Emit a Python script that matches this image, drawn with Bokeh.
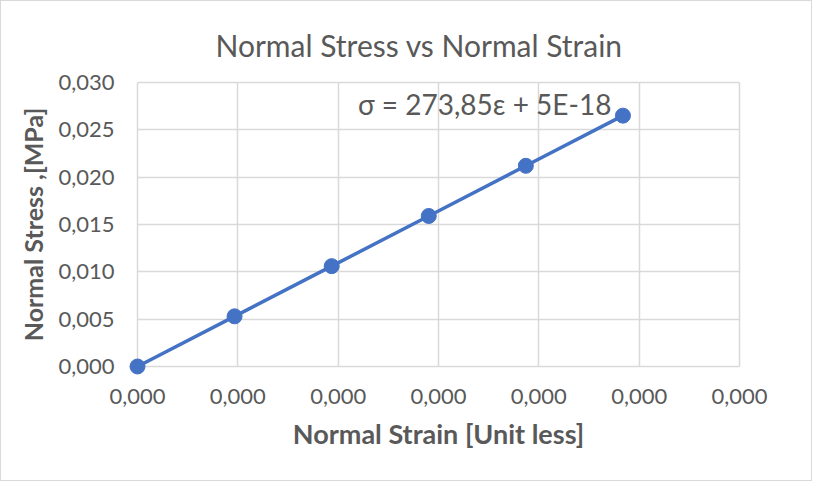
from bokeh.plotting import figure
from bokeh.models import FixedTicker, CustomJSTickFormatter, Label, Title, Range1d
from bokeh.embed import file_html
from bokeh.resources import INLINE

strain = [0.0, 1.935e-5, 3.871e-5, 5.806e-5, 7.741e-5, 9.677e-5]
stress = [0.0, 0.0053, 0.0106, 0.0159, 0.0212, 0.0265]
x_ticks = [0.0, 2e-5, 4e-5, 6e-5, 8e-5, 1e-4, 1.2e-4]
y_ticks = [0.0, 0.005, 0.010, 0.015, 0.020, 0.025, 0.030]
title_text = "Normal Stress vs Normal Strain"
x_label = "Normal Strain [Unit less]"
y_label = "Normal Stress ,[MPa]"
equation = "σ = 273,85ε + 5E-18"

FONT = "Lato"
GRAY = "#595959"
GRID = "#d9d9d9"
BLUE = "#4472C4"

# data area in pixels, plus a small pad so markers on the axes are not clipped
DATA_W, DATA_H, PAD = 602, 284, 9
x0, x1 = x_ticks[0], x_ticks[-1]
y0, y1 = y_ticks[0], y_ticks[-1]
px = (x1 - x0) / DATA_W * PAD
py = (y1 - y0) / DATA_H * PAD
FW, FH = DATA_W + 2 * PAD, DATA_H + 2 * PAD
L, T = 127, 72
W, H = 812, 481

p = figure(width=W, height=H, output_backend="svg", toolbar_location=None,
           x_range=Range1d(x0 - px, x1 + px), y_range=Range1d(y0 - py, y1 + py),
           min_border_left=L, min_border_right=W - L - FW,
           min_border_top=T, min_border_bottom=H - T - FH)
p.styles = {"border": "1px solid #d9d9d9"}

t = Title(text=title_text, align="left", text_font=FONT, text_font_size="30px",
          text_font_style="normal", text_color=GRAY, offset=87, standoff=21)
p.add_layout(t, "above")

fmt = CustomJSTickFormatter(code="return tick.toFixed(3).replace('.', ',');")
for ax, ticks in ((p.xaxis[0], x_ticks), (p.yaxis[0], y_ticks)):
    ax.ticker = FixedTicker(ticks=ticks)
    ax.formatter = fmt
    ax.axis_line_color = None
    ax.major_tick_line_color = None
    ax.minor_tick_line_color = None
    ax.major_label_text_font = FONT
    ax.major_label_text_font_size = "22px"
    ax.major_label_text_color = GRAY
    ax.axis_label_text_font = FONT
    ax.axis_label_text_font_style = "bold"
    ax.axis_label_text_color = GRAY

p.xaxis.axis_label = x_label
p.yaxis.axis_label = y_label
p.xaxis.axis_label_text_font_size = "27px"
p.yaxis.axis_label_text_font_size = "25px"
p.xaxis.major_label_standoff = 7
p.yaxis.major_label_standoff = 8
p.xaxis.axis_label_standoff = 10
p.yaxis.axis_label_standoff = 7

p.xgrid.grid_line_color = GRID
p.ygrid.grid_line_color = GRID
p.xgrid.grid_line_width = 1.5
p.ygrid.grid_line_width = 1.5
if "cross_bounds" in p.xgrid[0].properties():
    p.xgrid[0].cross_bounds = (y0, y1)
    p.ygrid[0].cross_bounds = (x0, x1)
p.outline_line_color = None
p.background_fill_color = "white"
p.border_fill_color = "white"

p.line(strain, stress, line_color=BLUE, line_width=3.5)
p.scatter(strain, stress, size=15, fill_color=BLUE, line_color=BLUE)

eq = Label(x=6.92e-5, y=0.02778, text=equation, text_font=FONT, text_font_size="28px",
           text_color=GRAY, text_align="center", text_baseline="middle")
p.add_layout(eq)

open("out.html", "w").write(file_html(p, INLINE))
